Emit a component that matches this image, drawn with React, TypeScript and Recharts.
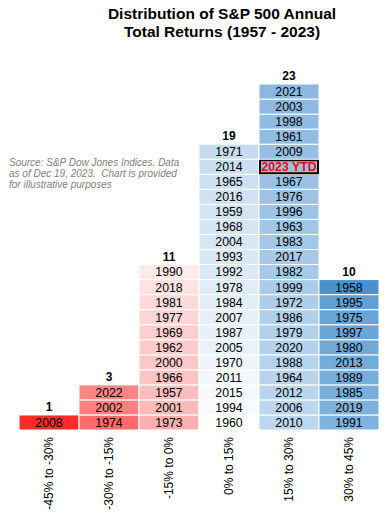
import React from 'react';
import { BarChart, Bar, XAxis, YAxis } from 'recharts';

// return buckets, left to right
const buckets = ['-45% to -30%', '-30% to -15%', '-15% to 0%', '0% to 15%', '15% to 30%', '30% to 45%'];

// years in each bucket, bottom to top
const yearsNeg45 = ['2008'];
const yearsNeg30 = ['1974', '2002', '2022'];
const yearsNeg15 = ['1973', '2001', '1957', '1966', '2000', '1962', '1969', '1977', '1981', '2018', '1990'];
const years0 = ['1960', '1994', '2015', '2011', '1970', '2005', '1987', '2007', '1984', '1978', '1992', '1993', '2004', '1968', '1959', '2016', '1965', '2014', '1971'];
const years15 = ['2010', '2006', '2012', '1964', '1988', '2020', '1979', '1986', '1972', '1999', '1982', '2017', '1983', '1963', '1996', '1976', '1967', '2023 YTD', '2009', '1961', '1998', '2003', '2021'];
const years30 = ['1991', '2019', '1985', '1989', '2013', '1980', '1997', '1975', '1995', '1958'];

const columns = [yearsNeg45, yearsNeg30, yearsNeg15, years0, years15, years30];
const highlight = '2023 YTD';

// cell shading (conditional-format look), bottom to top
const shades = [
  ['#FF2B2B'],
  ['#FF6B6B', '#FF8080', '#FF8585'],
  ['#FFAFB0', '#FFBABA', '#FFBDBD', '#FFC4C4', '#FFC8C8', '#FFCBCB', '#FFCFCF', '#FFD4D4', '#FFDADA', '#FFE1E1', '#FFEAEA'],
  ['#FFFFFF', '#F8FAFD', '#F5F9FC', '#F3F7FB', '#EEF4FA', '#EAF2F9', '#E8F0F8', '#E6EFF8', '#E3EEF7', '#E0ECF6', '#DDEAF5', '#D9E8F4', '#D7E6F3', '#D5E5F3', '#D3E4F2', '#D0E2F2', '#CDE1F1', '#CADFF0', '#C5DCEF'],
  ['#BDD7EE', '#BBD6ED', '#B9D5ED', '#B8D4EC', '#B6D3EC', '#B3D1EB', '#B1D0EA', '#AFCFEA', '#ADCDE9', '#ABCCE9', '#A8CAE8', '#A5C9E7', '#A3C7E6', '#A1C6E6', '#9FC5E5', '#9CC3E4', '#9AC2E4', '#98C0E3', '#96BFE3', '#92BDE2', '#90BCE1', '#8EBAE1', '#8BB8E0'],
  ['#7FB3DD', '#7CB1DC', '#79AFDB', '#77ADDA', '#73ABD9', '#70A9D8', '#6CA6D7', '#68A4D6', '#62A0D4', '#4A92CE'],
];

const maxRows = Math.max(...columns.map((c) => c.length));
const rows = Array.from({ length: maxRows }, (_, i) => i);

const data = buckets.map((name, ci) => {
  const row: Record<string, any> = { name, count: columns[ci].length };
  columns[ci].forEach((yr, ri) => {
    row[`r${ri}`] = 1;
    row[`y${ri}`] = yr;
  });
  return row;
});

const FONT = 'Arial, "Liberation Sans", sans-serif';

function renderCell(props: any, ri: number) {
  const { x, y, width, height, index, payload } = props;
  const yr = payload ? payload[`y${ri}`] : undefined;
  if (!yr || !height) return <g />;
  const isHi = yr === highlight;
  const isTop = ri === payload.count - 1;
  return (
    <g>
      <rect x={x} y={y} width={width} height={height} fill={shades[index][ri]} stroke="#fff" strokeWidth={1} />
      {isHi && <rect x={x + 1} y={y + 1} width={width - 2} height={height - 2} fill="none" stroke="#000" strokeWidth={2} />}
      <text
        x={x + width / 2}
        y={y + height / 2}
        dy="0.36em"
        textAnchor="middle"
        fontFamily={FONT}
        fontSize={12.3}
        fontWeight={isHi ? 'bold' : 'normal'}
        fill={isHi ? '#FF0000' : '#000'}
      >
        {yr}
      </text>
      {isTop && (
        <text x={x + width / 2} y={y - 4} textAnchor="middle" fontFamily={FONT} fontSize={12} fontWeight="bold" fill="#000">
          {payload.count}
        </text>
      )}
    </g>
  );
}

function BucketTick(props: any) {
  const { x, y, payload } = props;
  return (
    <g transform={`translate(${x},${y - 1}) rotate(-90)`}>
      <text x={0} y={0} dy="0.36em" textAnchor="end" fontFamily={FONT} fontSize={12} fill="#000">
        {payload.value}
      </text>
    </g>
  );
}

export default function App() {
  return (
    <div style={{ position: 'absolute', left: 0, top: 0, width: 385, height: 515, background: '#fff' }}>
      <div
        style={{
          position: 'absolute',
          left: 60,
          width: 324,
          top: 5,
          textAlign: 'center',
          fontFamily: FONT,
          fontWeight: 'bold',
          fontSize: 15.5,
          lineHeight: '18px',
          color: '#000',
        }}
      >
        Distribution of S&amp;P 500 Annual
        <br />
        Total Returns (1957 - 2023)
      </div>
      <div
        style={{
          position: 'absolute',
          left: 9,
          top: 157,
          fontFamily: FONT,
          fontStyle: 'italic',
          fontSize: 10,
          lineHeight: '11px',
          color: '#808080',
          whiteSpace: 'nowrap',
        }}
      >
        Source: S&amp;P Dow Jones Indices. Data
        <br />
        as of Dec 19, 2023.&nbsp; Chart is provided
        <br />
        for illustrative purposes
      </div>
      <BarChart
        width={385}
        height={515}
        data={data}
        margin={{ top: 84, right: 6, bottom: 0, left: 19 }}
        barCategoryGap={0}
        style={{ position: 'absolute', left: 0, top: 0 }}
      >
        <XAxis dataKey="name" axisLine={false} tickLine={false} interval={0} height={85} tick={<BucketTick />} />
        <YAxis hide type="number" domain={[0, maxRows]} />
        {rows.map((ri) => (
          <Bar
            key={ri}
            dataKey={`r${ri}`}
            stackId="a"
            isAnimationActive={false}
            shape={(p: any) => renderCell(p, ri)}
          />
        ))}
      </BarChart>
    </div>
  );
}
